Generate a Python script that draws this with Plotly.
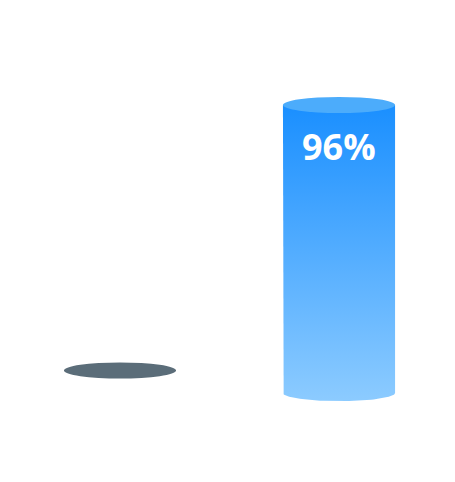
import numpy as np
import plotly.graph_objects as go

# Dati del grafico
categories = ["A", "B"]
values = [7.5, 96]
labels = ["", "96%"]

_CAP_GREY = "#5b6d79"
_TOP = "#1a8fff"
_BOTTOM = "#8ccbff"
_CAP_BLUE = "#4cacfb"

HALF_W = 0.256   # semi-larghezza del cilindro (unità asse x)
HALF_H = 2.7     # semi-altezza delle ellissi (unità asse y)

fig = go.Figure()

xs = np.arange(len(categories))
for i, (x, v) in enumerate(zip(xs, values)):
    if i == 0:
        # solo il "tappo" grigio
        fig.add_shape(
            type="circle", xref="x", yref="y",
            x0=x - HALF_W, x1=x + HALF_W, y0=v - HALF_H, y1=v + HALF_H,
            fillcolor=_CAP_GREY, line=dict(width=0),
        )
        continue
    # corpo del cilindro con base ellittica e gradiente verticale
    t = np.linspace(np.pi, 2 * np.pi, 60)
    arc_x = x + HALF_W * np.cos(t)
    arc_y = HALF_H * np.sin(t)
    px = np.concatenate([[x - HALF_W], arc_x, [x + HALF_W, x + HALF_W, x - HALF_W]])
    py = np.concatenate([[v], arc_y, [0, v, v]])
    fig.add_trace(
        go.Scatter(
            x=px, y=py, mode="lines", fill="toself",
            line=dict(width=0),
            fillgradient=dict(
                type="vertical",
                colorscale=[[0, _BOTTOM], [1, _TOP]],
            ),
            hoverinfo="skip", showlegend=False,
        )
    )
    fig.add_shape(
        type="circle", xref="x", yref="y",
        x0=x - HALF_W, x1=x + HALF_W, y0=v - HALF_H, y1=v + HALF_H,
        fillcolor=_CAP_BLUE, line=dict(width=0),
    )
    fig.add_annotation(
        x=x, y=v, text=f"<b>{labels[i]}</b>", showarrow=False,
        yshift=-42, font=dict(family="Open Sans", size=36, color="white"),
    )

fig.update_layout(
    width=455, height=482,
    margin=dict(l=0, r=0, t=0, b=0),
    plot_bgcolor="white", paper_bgcolor="white",
    xaxis=dict(range=[-0.5114, 1.5662], visible=False, fixedrange=True),
    yaxis=dict(range=[-32.33, 128.33], visible=False, fixedrange=True),
    showlegend=False,
)

fig.write_html("out.html")
